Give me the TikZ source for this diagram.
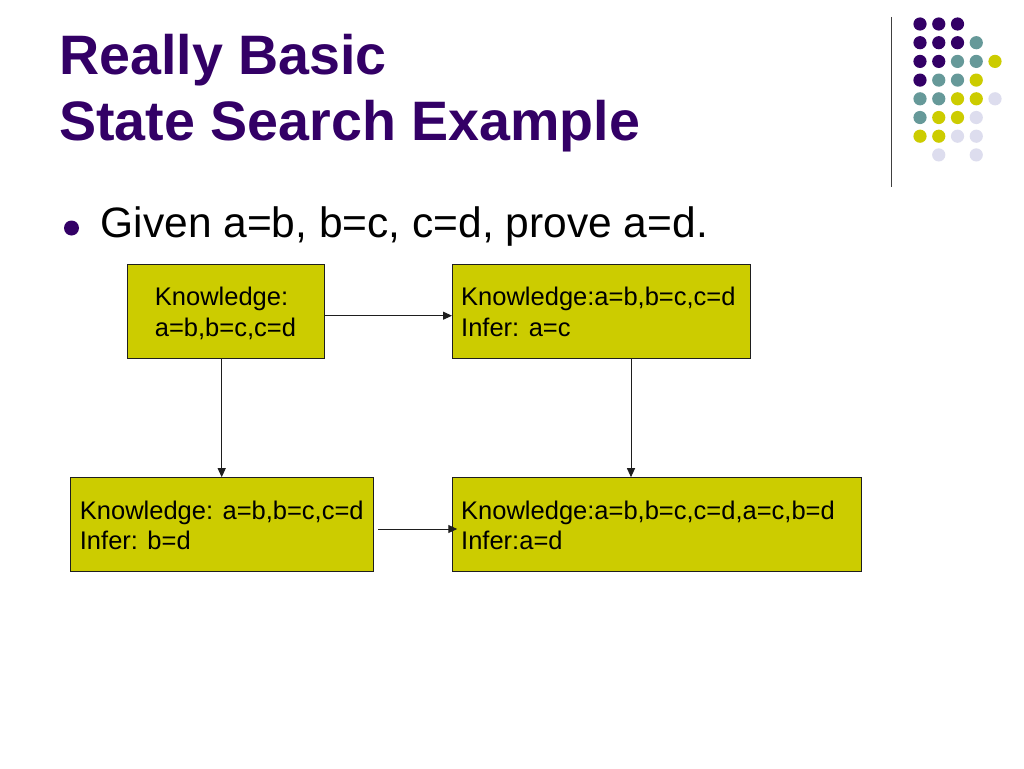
\documentclass[tikz,border=0pt]{standalone}
\usepackage{fontspec}
\setmainfont{Liberation Sans}
\usetikzlibrary{arrows.meta}
\definecolor{ttl}{RGB}{51,0,102}
\definecolor{dteal}{RGB}{102,153,153}
\definecolor{dyel}{RGB}{204,204,0}
\definecolor{dlav}{RGB}{221,221,238}
\definecolor{lin}{RGB}{30,30,30}
\tikzset{
  box/.style={draw=lin, line width=0.9pt, fill=dyel, rectangle, inner sep=0pt, outer sep=0pt, minimum height=94pt},
  boxtxt/.style={anchor=base west, inner sep=0pt, font=\fontsize{25.5}{30}\selectfont, text=black},
  arr/.style={draw=lin, line width=1pt, -{Triangle[length=9pt,width=8pt]}},
  dot/.style={radius=6.6pt}
}
\begin{document}
\begin{tikzpicture}[x=1pt,y=-1pt]
\useasboundingbox[fill=white] (0,0) rectangle (1024,768);
% title
\node[anchor=base west, inner sep=0pt, text=ttl, font=\fontsize{55.6}{66}\selectfont\bfseries] (title1) at (59,74.5) {Really Basic};
\node[anchor=base west, inner sep=0pt, text=ttl, font=\fontsize{55.6}{66}\selectfont\bfseries] (title2) at (59,140.5) {State Search Example};
% decoration
\draw[color=black!75, line width=1.5pt] (891.7,17) -- (891.7,187);
\foreach \c/\r/\col in {0/0/ttl,1/0/ttl,2/0/ttl,
  0/1/ttl,1/1/ttl,2/1/ttl,3/1/dteal,
  0/2/ttl,1/2/ttl,2/2/dteal,3/2/dteal,4/2/dyel,
  0/3/ttl,1/3/dteal,2/3/dteal,3/3/dyel,
  0/4/dteal,1/4/dteal,2/4/dyel,3/4/dyel,4/4/dlav,
  0/5/dteal,1/5/dyel,2/5/dyel,3/5/dlav,
  0/6/dyel,1/6/dyel,2/6/dlav,3/6/dlav,
  1/7/dlav,3/7/dlav}
  \fill[\col] ({920+18.75*\c},{24+18.7*\r}) circle[dot];
% bullet
\fill[ttl] (71.5,228) circle[radius=7.5pt];
\node[anchor=base west, inner sep=0pt, font=\fontsize{42.5}{50}\selectfont] (given) at (100.5,237.7) {Given a=b, b=c, c=d, prove a=d.};
% boxes
\node[box, minimum width=197pt] (k1) at (225.5,311.3) {};
\node[box, minimum width=298pt] (k2) at (601,311.3) {};
\node[box, minimum width=303pt] (k3) at (221.5,524.2) {};
\node[box, minimum width=409.7pt] (k4) at (656.8,524.2) {};
% box texts
\node[boxtxt] (t1a) at (154.7,305.7) {Knowledge:};
\node[boxtxt] (t1b) at (154.7,336) {a=b,b=c,c=d};
\node[boxtxt] (t2a) at (461,305.7) {Knowledge:a=b,b=c,c=d};
\node[boxtxt] (t2b) at (461,336) {Infer: a=c};
\node[boxtxt] (t3a) at (79.7,519.3) {Knowledge: a=b,b=c,c=d};
\node[boxtxt] (t3b) at (79.7,549.3) {Infer: b=d};
\node[boxtxt] (t4a) at (461,519.3) {Knowledge:a=b,b=c,c=d,a=c,b=d};
\node[boxtxt] (t4b) at (461,549.3) {Infer:a=d};
% connectors
\draw[arr] ([yshift=-4.4pt]k1.east) -- ([yshift=-4.4pt]k1.east -| k2.west);
\draw[arr] ([xshift=-3.8pt]k1.south) -- ([xshift=-3.8pt]k1.south |- k3.north);
\draw[arr] ([xshift=30pt]k2.south) -- ([xshift=30pt]k2.south |- k4.north);
\draw[arr] ([shift={(5.3pt,-4.8pt)}]k3.east) -- ([shift={(5.3pt,-4.8pt)}]k3.east -| k4.west);
\end{tikzpicture}
\end{document}
